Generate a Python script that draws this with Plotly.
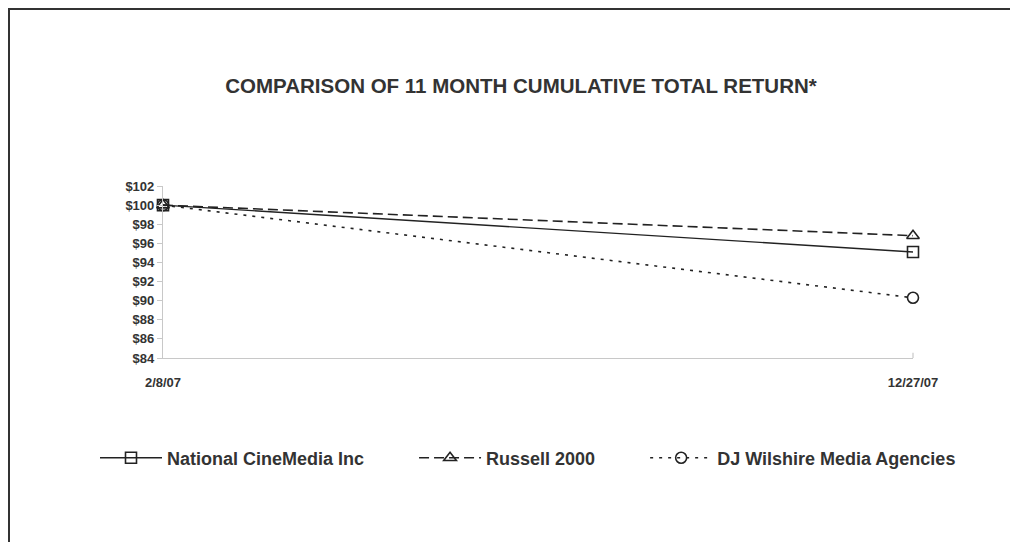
import plotly.graph_objects as go

dates = ["2/8/07", "12/27/07"]
ncm = [100, 95.1]
russell = [100, 96.8]
djw = [100, 90.3]
series_names = ["National CineMedia Inc", "Russell 2000", "DJ Wilshire Media Agencies"]
ytick_vals = [84, 86, 88, 90, 92, 94, 96, 98, 100, 102]
ytick_text = ["$%d" % v for v in ytick_vals]

FONT = "Liberation Sans"
INK = "#222222"
TXT = "#333333"
NB = "\u00a0"

W, H = 1010, 534
L, R, T, B = 155, 105, 178, 184
PW = W - L - R
PH = H - T - B

fig = go.Figure()
fig.add_trace(go.Scatter(
    x=dates, y=ncm, name=series_names[0] + NB * 9, mode="lines+markers", cliponaxis=False,
    line=dict(color=INK, width=1.4),
    marker=dict(symbol="square-open", size=11, color=INK, line=dict(width=1.6))))
fig.add_trace(go.Scatter(
    x=dates, y=russell, name=series_names[1] + NB * 9, mode="lines+markers", cliponaxis=False,
    line=dict(color=INK, width=1.6, dash="10px,5px"),
    marker=dict(symbol="triangle-up-open", size=11, color=INK, line=dict(width=1.6))))
fig.add_trace(go.Scatter(
    x=dates, y=djw, name=series_names[2], mode="lines+markers", cliponaxis=False,
    line=dict(color=INK, width=1.6, dash="3px,6px"),
    marker=dict(symbol="circle-open", size=11, color=INK, line=dict(width=1.6))))

fig.update_layout(
    width=W, height=H, autosize=False,
    margin=dict(l=L, r=R, t=T, b=B, autoexpand=False),
    paper_bgcolor="white", plot_bgcolor="white",
    font=dict(family=FONT, color=TXT, size=13),
    title=dict(text="<b>COMPARISON OF 11 MONTH CUMULATIVE TOTAL RETURN*</b>",
               xref="container", x=513 / W, xanchor="center",
               yref="container", y=1 - 78 / H, yanchor="middle",
               font=dict(family=FONT, size=20.5, color=TXT)),
    showlegend=True,
    legend=dict(orientation="h", x=-(L - 87) / PW, xanchor="left",
                y=-(450 - (H - B)) / PH, yanchor="middle",
                itemwidth=62,
                font=dict(family=FONT, size=18, color=TXT, weight="bold"),
                bgcolor="rgba(0,0,0,0)"),
    xaxis=dict(type="category", range=[0, 1], showgrid=False, showline=True,
               linecolor="#c8c8c8", linewidth=1.2, ticks="", zeroline=False,
               ticklabelstandoff=12,
               tickfont=dict(family=FONT, size=13, color=TXT, weight="bold")),
    yaxis=dict(range=[84, 102], tickvals=ytick_vals, ticktext=ytick_text,
               showgrid=False, showline=True, linecolor="#c8c8c8", linewidth=1.2,
               ticks="outside", ticklen=5, tickcolor="#c8c8c8", zeroline=False,
               tickfont=dict(family=FONT, size=13, color=TXT, weight="bold")),
    shapes=[
        dict(type="line", xref="paper", yref="paper", x0=-L / PW, x1=2, y0=1 + (T - 1) / PH, y1=1 + (T - 1) / PH,
             line=dict(color="#333333", width=2)),
        dict(type="line", xref="paper", yref="paper", x0=-(L - 1) / PW, x1=-(L - 1) / PW, y0=1 + T / PH, y1=-3,
             line=dict(color="#333333", width=2)),
        dict(type="line", xref="paper", yref="paper", x0=1, x1=1, y0=0, y1=0.03,
             line=dict(color="#c8c8c8", width=1.2)),
    ],
)

fig.write_html("out.html")
